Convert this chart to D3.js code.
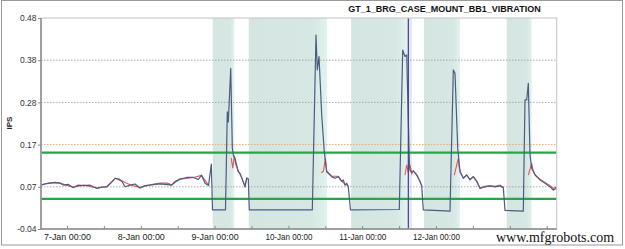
<!DOCTYPE html>
<html>
<head>
<meta charset="utf-8">
<script src="https://cdn.jsdelivr.net/npm/d3@7"></script>
<style>
  body { margin: 0; background: #fff; }
  svg { display: block; font-family: "Liberation Sans", Arial, sans-serif; }
</style>
</head>
<body>
<svg width="625" height="249"></svg>
<script>
// hours since 7-Jan 00:00, vibration in IPS
const hours = [-8.46, -7.15, -5.53, -3.90, -2.28, -0.98, 0.33, 1.95, 3.58, 5.53, 7.48, 9.76, 11.38, 13.01,
  14.63, 15.61, 16.91, 17.89, 18.86, 20.49, 22.11, 23.74, 25.37, 26.99, 28.62, 30.24, 31.87, 34.05,
  35.12, 36.75, 38.93, 41.07, 42.70, 43.74, 44.88, 46.02, 46.93, 47.32, 51.54, 52.13, 52.46, 53.24,
  53.76, 54.08, 54.63, 55.71, 56.26, 56.81, 57.89, 58.44, 58.96, 59.28, 79.77, 80.97, 81.40, 81.95,
  82.83, 83.67, 84.45, 86.08, 87.15, 88.23, 89.33, 89.85, 90.41, 90.96, 91.48, 92.19, 108.06, 109.17,
  109.92, 110.47, 111.38, 111.87, 112.62, 113.72, 114.80, 115.35, 115.87, 124.55, 125.63, 126.18,
  127.06, 127.80, 128.88, 129.98, 131.06, 132.13, 133.24, 134.31, 135.94, 137.57, 139.19, 140.82,
  141.89, 142.44, 148.39, 148.94, 149.50, 150.02, 150.57, 151.12, 152.20, 153.82, 155.45, 157.07,
  158.15, 159.25];
const ips = [0.068, 0.071, 0.073, 0.075, 0.073, 0.068, 0.070, 0.062, 0.068, 0.067, 0.068, 0.060, 0.063, 0.064,
  0.076, 0.085, 0.083, 0.077, 0.064, 0.068, 0.071, 0.061, 0.067, 0.068, 0.070, 0.071, 0.070, 0.068,
  0.077, 0.083, 0.087, 0.087, 0.082, 0.093, 0.073, 0.067, 0.120, 0.007, 0.007, 0.249, 0.224, 0.356,
  0.160, 0.142, 0.134, 0.101, 0.097, 0.086, 0.064, 0.086, 0.083, 0.007, 0.007, 0.438, 0.352, 0.385,
  0.241, 0.150, 0.101, 0.089, 0.085, 0.089, 0.077, 0.081, 0.068, 0.073, 0.064, 0.007, 0.008, 0.401,
  0.385, 0.389, 0.110, 0.101, 0.103, 0.093, 0.077, 0.066, 0.007, 0.004, 0.352, 0.344,
  0.159, 0.101, 0.085, 0.093, 0.081, 0.089, 0.077, 0.060, 0.064, 0.066, 0.064, 0.066,
  0.062, 0.006, 0.004, 0.278, 0.278, 0.319, 0.142, 0.110, 0.093, 0.081, 0.073, 0.064,
  0.056, 0.061];

// second (red) trace, absent while the unit is down
const refHours = [-8.46, -5.53, -2.28, 1.95, 5.53, 9.76, 13.01, 15.61, 17.89, 20.49, 23.74, 26.99, 30.24,
  32.5, 34.05, 36.75, 41.07, 43.74, 46.02, 47.0,
  53.4, 53.9, 54.4, 54.9, 55.71, 56.81, 57.89, 58.44, 58.96, 59.2,
  82.7, 83.4, 84.0, 84.45, 86.08, 88.23, 89.33, 90.41, 91.48, 92.0,
  109.92, 110.47, 111.0, 111.55, 112.1, 112.62, 113.72, 114.80, 115.35, 115.6,
  125.95, 127.25, 127.58, 128.0, 128.88, 129.98, 131.06, 132.13, 133.24, 134.31, 135.94, 137.57,
  139.19, 140.82, 141.89, 142.2,
  150.02, 151.12, 151.54, 152.20, 153.82, 155.45, 157.07, 158.15, 159.25];
const refIps = [0.069, 0.074, 0.073, 0.063, 0.068, 0.061, 0.065, 0.085, 0.078, 0.069, 0.062, 0.069, 0.073,
  0.073, 0.069, 0.083, 0.087, 0.092, 0.068, null,
  0.135, 0.110, 0.140, 0.118, 0.103, 0.087, 0.065, 0.085, 0.083, null,
  0.098, 0.103, 0.134, 0.103, 0.090, 0.090, 0.078, 0.070, 0.066, null,
  0.093, 0.118, 0.098, 0.118, 0.096, 0.103, 0.094, 0.078, 0.067, null,
  0.093, 0.134, 0.110, 0.100, 0.086, 0.093, 0.082, 0.089, 0.078, 0.061, 0.065, 0.067,
  0.065, 0.068, 0.063, null,
  0.093, 0.122, 0.105, 0.094, 0.083, 0.075, 0.067, 0.060, 0.064];

const bandStart = [47.4, 59.1, 92.4, 116.1, 143.0];
const bandEnd = [54.4, 84.6, 110.5, 127.8, 151.1];
const alarmLevels = [0.148, 0.034];
const cursorHour = 111.0;
const yTickLabels = ['-0.04', '0.07', '0.17', '0.28', '0.38', '0.48'];
const title = 'GT_1_BRG_CASE_MOUNT_BB1_VIBRATION';

const svg = d3.select('svg');
const base = new Date(2017, 0, 7);
const toDate = h => new Date(base.getTime() + h * 3600e3);

const plotLeft = 41, plotRight = 556.7, plotTop = 18, plotBottom = 229;

const xScale = d3.scaleTime()
  .domain([toDate(-8.46), toDate(159.25)])
  .range([plotLeft, plotRight]);
const yScale = d3.scaleLinear()
  .domain([-0.04, 0.48])
  .range([plotBottom, plotTop]);
const yTicks = yTickLabels.map((d, i) => -0.04 + i * 0.104);

// outer frame
svg.append('rect')
  .attr('x', 1.5).attr('y', 0.5).attr('width', 621).attr('height', 244.5)
  .attr('fill', '#fff').attr('stroke', '#9a9a9a');

// shutdown bands
const defs = svg.append('defs');
const grad = defs.append('linearGradient').attr('id', 'band');
grad.append('stop').attr('offset', '0%').attr('stop-color', '#d5e5e1');
grad.append('stop').attr('offset', '80%').attr('stop-color', '#d7e7e3');
grad.append('stop').attr('offset', '100%').attr('stop-color', '#e0f3ef');

svg.append('g').selectAll('rect').data(bandStart).join('rect')
  .attr('x', d => xScale(toDate(d)))
  .attr('y', plotTop)
  .attr('width', (d, i) => xScale(toDate(bandEnd[i])) - xScale(toDate(d)))
  .attr('height', plotBottom - plotTop)
  .attr('fill', 'url(#band)');

// highlight round the cursor
svg.append('rect')
  .attr('x', xScale(toDate(cursorHour)) - 1.5).attr('y', plotTop)
  .attr('width', 5).attr('height', plotBottom - plotTop)
  .attr('fill', '#e2e8f3');

// grid
svg.append('g').selectAll('line').data(yTicks.slice(1, 5)).join('line')
  .attr('x1', plotLeft).attr('x2', plotRight)
  .attr('y1', d => yScale(d)).attr('y2', d => yScale(d))
  .attr('stroke', (d, i) => i === 1 ? '#d8b078' : '#a8a8a8')
  .attr('stroke-width', 1)
  .attr('stroke-dasharray', '1.5,1.5');

// alarm limits
svg.append('g').selectAll('line').data(alarmLevels).join('line')
  .attr('x1', plotLeft).attr('x2', plotRight)
  .attr('y1', d => yScale(d)).attr('y2', d => yScale(d))
  .attr('stroke', '#25a843')
  .attr('stroke-width', 2.2);

// traces
const refData = refHours.map((h, i) => ({ t: toDate(h), v: refIps[i] }));
const data = hours.map((h, i) => ({ t: toDate(h), v: ips[i] }));

const line = d3.line()
  .defined(d => d.v !== null)
  .x(d => xScale(d.t))
  .y(d => yScale(d.v));

svg.append('path').datum(refData)
  .attr('d', line)
  .attr('fill', 'none')
  .attr('stroke', '#e65555')
  .attr('stroke-width', 1.1);

svg.append('path').datum(data)
  .attr('d', line)
  .attr('fill', 'none')
  .attr('stroke', '#4a5d82')
  .attr('stroke-width', 1.2)
  .attr('stroke-linejoin', 'round');

// cursor
svg.append('line')
  .attr('x1', xScale(toDate(cursorHour))).attr('x2', xScale(toDate(cursorHour)))
  .attr('y1', plotTop).attr('y2', plotBottom)
  .attr('stroke', '#42458a')
  .attr('stroke-width', 1.2);

// plot frame
svg.append('rect')
  .attr('x', plotLeft).attr('y', plotTop).attr('width', plotRight - plotLeft).attr('height', plotBottom - plotTop)
  .attr('fill', 'none').attr('stroke', '#c4c4c4').attr('stroke-width', 1);
svg.append('line')
  .attr('x1', plotLeft).attr('x2', plotLeft).attr('y1', plotTop).attr('y2', plotBottom)
  .attr('stroke', '#8a8a8a').attr('stroke-width', 1.5);
svg.append('line')
  .attr('x1', plotLeft).attr('x2', plotRight).attr('y1', plotBottom).attr('y2', plotBottom)
  .attr('stroke', '#8a8a8a').attr('stroke-width', 1.5);

// axes
const fmt = d3.timeFormat('%-d-%b %H:%M');
const lastLabel = toDate(120);
const xAxis = d3.axisBottom(xScale)
  .ticks(d3.timeHour.every(12))
  .tickSize(-3)
  .tickPadding(4.5)
  .tickFormat(d => (d.getHours() === 0 && d <= lastLabel) ? fmt(d) : '');

const xAxisG = svg.append('g')
  .attr('transform', `translate(0,${plotBottom})`)
  .call(xAxis);
xAxisG.select('.domain').remove();
xAxisG.selectAll('line').attr('stroke', '#888');
xAxisG.selectAll('text')
  .attr('fill', '#222')
  .style('font-size', '9px')
  .each(function() {
    if (this.textContent) d3.select(this).attr('textLength', 47).attr('lengthAdjust', 'spacingAndGlyphs');
  });

const yAxis = d3.axisLeft(yScale)
  .tickValues(yTicks)
  .tickSize(3)
  .tickPadding(1.5)
  .tickFormat((d, i) => yTickLabels[i]);

const yAxisG = svg.append('g')
  .attr('transform', `translate(${plotLeft},0)`)
  .call(yAxis);
yAxisG.select('.domain').remove();
yAxisG.selectAll('line').attr('stroke', '#888');
yAxisG.selectAll('text')
  .attr('fill', '#333')
  .style('font-size', '8.5px');

svg.append('text')
  .attr('transform', 'translate(12,123) rotate(-90)')
  .attr('text-anchor', 'middle')
  .attr('fill', '#222')
  .style('font-size', '8px')
  .style('font-weight', 'bold')
  .text('IPS');

svg.append('text')
  .attr('x', 444.5).attr('y', 11.5)
  .attr('text-anchor', 'middle')
  .attr('fill', '#111')
  .style('font-size', '9px')
  .style('font-weight', 'bold')
  .text(title);

// watermark
svg.append('text')
  .attr('x', 496).attr('y', 242)
  .attr('fill', '#111')
  .style('font-family', '"Liberation Serif", "DejaVu Serif", serif')
  .style('font-size', '14px')
  .text('www.mfgrobots.com');
</script>
</body>
</html>
